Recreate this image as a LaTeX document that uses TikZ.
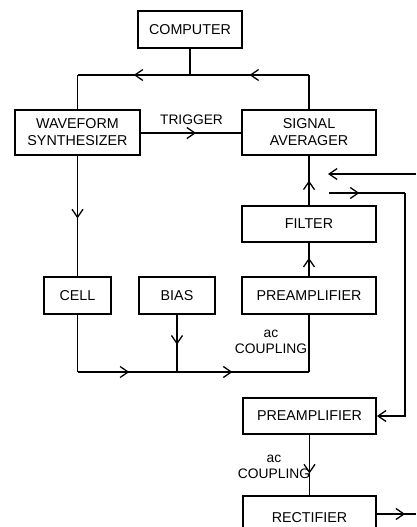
\documentclass[tikz,border=0pt]{standalone}
\usepackage{fontspec}
\setmainfont{Liberation Sans}
\usetikzlibrary{arrows.meta,decorations.markings}
\tikzset{
  barb/.tip={Straight Barb[length=8pt,width=11pt,line width=1.3pt]},
  blk/.style={draw, line width=1.9pt, inner sep=0pt, align=center,
    font=\fontsize{14.3}{17}\selectfont},
  wire/.style={line width=1.3pt},
  marr/.style={wire, postaction={decorate},
    decoration={markings, mark=at position #1 with {\arrow{barb}}}},
  lbl/.style={align=center, inner sep=0pt, font=\fontsize{13.8}{16.5}\selectfont}
}
\begin{document}
\begin{tikzpicture}[x=1pt,y=-1pt]
\clip (0,0) rectangle (416,527);
\fill[white] (0,0) rectangle (416,527);

% boxes
\node[blk, minimum width=104pt, minimum height=37pt] (comp) at (190,29.5) {COMPUTER};
\node[blk, minimum width=125pt, minimum height=45pt] (wave) at (77.5,132.5) {WAVEFORM\\SYNTHESIZER};
\node[blk, minimum width=134pt, minimum height=45pt] (sa) at (309,132.5) {SIGNAL\\AVERAGER};
\node[blk, minimum width=134pt, minimum height=36pt] (filt) at (309,224) {FILTER};
\node[blk, minimum width=67pt, minimum height=37pt] (cell) at (77.5,295.5) {CELL};
\node[blk, minimum width=76pt, minimum height=37pt] (bias) at (177,295.5) {BIAS};
\node[blk, minimum width=134pt, minimum height=37pt] (pre1) at (309,295.5) {PREAMPLIFIER};
\node[blk, minimum width=133pt, minimum height=36pt] (pre2) at (309.5,416) {PREAMPLIFIER};
\node[blk, minimum width=133pt, minimum height=44pt] (rect) at (309.5,518) {RECTIFIER};

% labels
\node[lbl] (trig) at (191.5,119.5) {TRIGGER};
\node[lbl] (ac1) at (271,342) {ac\\COUPLING};
\node[lbl] (ac2) at (274,467) {ac\\COUPLING};

% coordinates
\coordinate (jn) at (comp.south |- 0,75);
\coordinate (wl) at (wave.north |- 0,75);
\coordinate (sr) at (sa.north |- 0,75);
\coordinate (bl) at (cell.south |- 0,372);
\coordinate (bm) at (bias.south |- 0,372);
\coordinate (br) at (pre1.south |- 0,372);
\coordinate (in1s) at (416,174);
\coordinate (in1e) at (328,174);
\coordinate (out1s) at (329,193);
\coordinate (out1c) at (405,193);
\coordinate (out1d) at (405,416);
\coordinate (rout) at (416,514);
\coordinate (rsrc) at (rect.east |- rout);

% connectors
\draw[wire] (comp.south) -- (jn);
\draw[marr=0.5] (jn) -- (wl);
\draw[wire] (wl) -- (wave.north);
\draw[wire] (sa.north) -- (sr);
\draw[marr=0.5] (sr) -- (jn);
\draw[marr=0.55] (wave.east |- 0,133) -- (sa.west |- 0,133);
\draw[marr=0.52] (wave.south) -- (cell.north);
\draw[marr=0.5] (filt.north) -- (sa.south);
\draw[marr=0.55] (pre1.north) -- (filt.south);
\draw[wire] (cell.south) -- (bl);
\draw[marr=0.52] (bl) -- (bm);
\draw[marr=0.52] (bias.south) -- (bm);
\draw[marr=0.42] (bm) -- (br);
\draw[wire] (br) -- (pre1.south);
\draw[wire, -{barb}] (in1s) -- (in1e);
\draw[marr=0.4] (out1s) -- (out1c);
\draw[wire, -{barb}] (out1c) -- (out1d) -- (pre2.east);
\draw[marr=0.64] (pre2.south) -- (rect.north);
\draw[marr=0.72] (rsrc) -- (rout);
\end{tikzpicture}
\end{document}
